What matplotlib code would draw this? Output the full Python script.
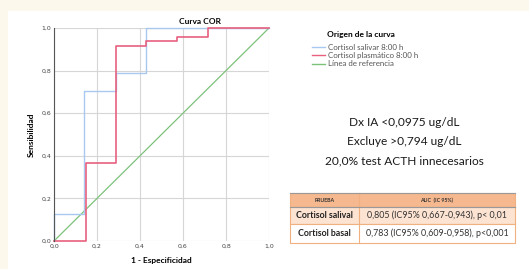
import matplotlib
matplotlib.use("Agg")
import matplotlib.pyplot as plt
from matplotlib.patches import Rectangle

plt.rcParams['font.family'] = ['Lato', 'DejaVu Sans']

# ROC data
salival_x = [0.0, 0.0, 0.14, 0.14, 0.29, 0.29, 0.43, 0.43, 1.0]
salival_y = [0.0, 0.126, 0.126, 0.706, 0.706, 0.791, 0.791, 1.0, 1.0]
plasma_x = [0.0, 0.148, 0.148, 0.29, 0.29, 0.43, 0.43, 0.571, 0.571, 0.716, 0.716, 1.0]
plasma_y = [0.0, 0.0, 0.364, 0.364, 0.917, 0.917, 0.939, 0.939, 0.960, 0.960, 1.0, 1.0]
ref_x = [0.0, 1.0]
ref_y = [0.0, 1.0]
ticks = [0.0, 0.2, 0.4, 0.6, 0.8, 1.0]
tick_labels = ["0,0", "0,2", "0,4", "0,6", "0,8", "1,0"]

legend_title = "Origen de la curva"
legend_labels = ["Cortisol salivar 8:00 h", "Cortisol plasmático 8:00 h", "Línea de referencia"]
colors = ["#a9c8f0", "#e8607f", "#7cc27a"]

notes = ["Dx IA <0,0975 ug/dL", "Excluye >0,794 ug/dL", "20,0% test ACTH innecesarios"]
table_header = ["PRUEBA", "AUC  (IC 95%)"]
table_tests = ["Cortisol salival", "Cortisol basal"]
table_auc = ["0,805 (IC95% 0,667-0,943), p< 0,01", "0,783 (IC95% 0,609-0,958), p<0,001"]

W, H = 529, 269
fig = plt.figure(figsize=(W / 100, H / 100), dpi=100)
fig.patch.set_facecolor("#fdf8ec")
bg = fig.add_axes([8 / W, 0, 1 - 8 / W, 1 - 11 / H])
bg.set_axis_off()
bg.add_patch(Rectangle((0, 0), 1, 1, transform=bg.transAxes, facecolor="white", edgecolor="none"))

def fx(px):
    return px / W

def fy(py):
    return 1 - py / H

ax = fig.add_axes([fx(54), fy(241), (269 - 54) / W, (241 - 28) / H])
ax.set_xlim(0, 1)
ax.set_ylim(0, 1)
ax.set_facecolor("white")
for s in ["top", "right", "bottom"]:
    ax.spines[s].set_visible(False)
ax.spines["left"].set_color("#555555")
ax.spines["left"].set_linewidth(0.8)
ax.set_xticks(ticks)
ax.set_yticks(ticks)
ax.set_xticklabels(tick_labels, fontsize=4.5, color="#444444", family="DejaVu Sans")
ax.set_yticklabels(tick_labels, fontsize=4.5, color="#444444", family="DejaVu Sans")
ax.tick_params(length=0, pad=2)
ax.grid(True, color="#d6d6d6", linewidth=0.8)
ax.set_axisbelow(True)

ax.plot(ref_x, ref_y, color=colors[2], linewidth=0.9, clip_on=False)
ax.plot(salival_x, salival_y, color=colors[0], linewidth=1.0, clip_on=False)
ax.plot(plasma_x, plasma_y, color=colors[1], linewidth=1.2, clip_on=False)

ax.set_xlabel("1 - Especificidad", fontsize=6, fontweight="bold", labelpad=6)
ax.set_ylabel("Sensibilidad", fontsize=6, fontweight="bold", labelpad=5)
fig.text(fx(200), fy(21), "Curva COR", fontsize=6, fontweight="bold", ha="center", va="center")

# legend
fig.text(fx(327), fy(35), legend_title, fontsize=6, fontweight="bold", ha="left", va="center")
for i, (lab, c) in enumerate(zip(legend_labels, colors)):
    yy = 47 + i * 8.3
    fig.add_artist(plt.Line2D([fx(312), fx(325)], [fy(yy), fy(yy)], color=c, linewidth=1.0))
    fig.text(fx(328), fy(yy), lab, fontsize=5.7, color="#555555", ha="left", va="center")

# notes
for i, t in enumerate(notes):
    fig.text(fx(404), fy(122 + i * 19.5), t, fontsize=8.6, ha="center", va="center", color="#1a1a1a")

# table
tx0, tx1, tdiv = 290, 515, 359
rows = [(193, 207), (207, 224), (224, 243)]
fills = ["#f6b88e", "#fce3d2", "#ffffff"]
border = "#f0b080"
for (y0, y1), f in zip(rows, fills):
    fig.add_artist(Rectangle((fx(tx0), fy(y1)), (tx1 - tx0) / W, (y1 - y0) / H,
                             facecolor=f, edgecolor=border, linewidth=0.8))
fig.add_artist(plt.Line2D([fx(tdiv), fx(tdiv)], [fy(193), fy(243)], color=border, linewidth=0.8))
fig.add_artist(plt.Line2D([fx(tx0), fx(tx1)], [fy(193), fy(193)], color="#999999", linewidth=0.8))
fig.add_artist(plt.Line2D([fx(tx0), fx(tx1)], [fy(207), fy(207)], color="#999999", linewidth=0.8))
fig.text(fx((tx0 + tdiv) / 2), fy(200), table_header[0], fontsize=3.8, fontweight="bold", ha="center", va="center", color="#333333")
fig.text(fx((tdiv + tx1) / 2), fy(200), table_header[1], fontsize=3.8, fontweight="bold", ha="center", va="center", color="#333333")
for i in range(2):
    y0, y1 = rows[i + 1]
    yc = (y0 + y1) / 2
    fig.text(fx((tx0 + tdiv) / 2), fy(yc), table_tests[i], fontsize=6.3, fontweight="bold", ha="center", va="center", color="#222222")
    fig.text(fx((tdiv + tx1) / 2), fy(yc), table_auc[i], fontsize=6.4, ha="center", va="center", color="#333333")

fig.savefig("out.png", dpi=100, facecolor=fig.get_facecolor())
